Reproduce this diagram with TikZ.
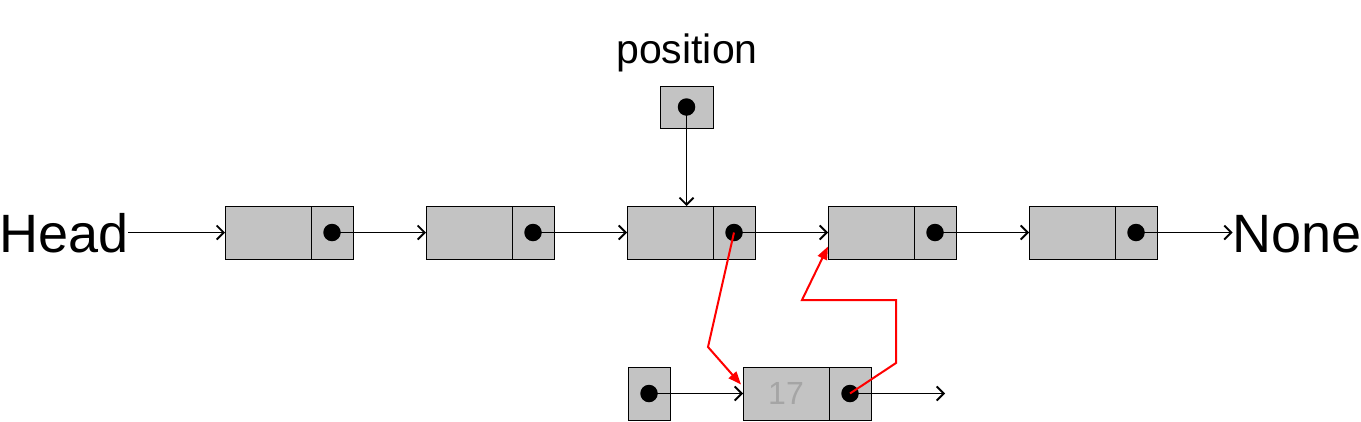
\documentclass[tikz,border=0pt]{standalone}
\usepackage{fontspec}
\setmainfont{Liberation Sans}
\usetikzlibrary{arrows.meta}
\definecolor{boxgray}{RGB}{195,195,195}
\definecolor{txtgray}{RGB}{165,165,165}
\begin{document}
\begin{tikzpicture}[x=1pt,y=-1pt,
 cell/.style={draw=black,line width=1pt,fill=boxgray,minimum height=53pt,inner sep=0pt,outer sep=0pt},
 datacell/.style={cell,minimum width=86pt},
 ptrcell/.style={cell,minimum width=42pt},
 dot/.style={circle,fill=black,minimum size=17.5pt,inner sep=0pt},
 link/.style={line width=1.8pt,-{Straight Barb[length=7pt,width=14pt]}},
 redlink/.style={red,line width=2pt,-{Triangle[length=13pt,width=10pt]}},
 big/.style={font=\fontsize{54}{60}\selectfont,inner sep=0pt}]
\useasboundingbox (0,0) rectangle (1361,421);
\foreach \i/\x in {1/225,2/426,3/627,4/828,5/1029} {
  \node[datacell,anchor=west] (d\i) at (\x,232.5) {};
  \node[ptrcell,anchor=west] (p\i) at (d\i.east) {};
}
\node[big,anchor=base west] (head) at (-1,252) {Head};
\node[big,anchor=base east] (none) at (1362,252) {None};
\node[cell,minimum width=53pt,minimum height=42pt] (pos) at (686.5,107) {};
\node[font=\fontsize{41}{48}\selectfont,anchor=base,inner sep=0pt] (poslabel) at (687,63) {position};
\node[ptrcell] (q) at (649,393.5) {};
\node[datacell,anchor=west,text=txtgray,font=\fontsize{32}{36}\selectfont] (d17) at (743,393.5) {17};
\node[ptrcell,anchor=west] (p17) at (d17.east) {};
\coordinate (tail) at (945,393.5);
% black links
\draw[link] (d1.west -| head.east) -- (d1.west);
\foreach \i/\j in {1/2,2/3,3/4,4/5} \draw[link] (p\i.center) -- (d\j.west);
\draw[link] (p5.center) -- (p5.center -| none.west);
\draw[link] (pos.center) -- (pos.center |- d3.north);
\draw[link] (q.center) -- (d17.west);
\draw[link] (p17.center) -- (tail);
% dots
\foreach \i in {1,2,3,4,5} \node[dot] (c\i) at (p\i.center) {};
\node[dot] (pc) at (pos.center) {};
\node[dot] (qc) at (q.center) {};
\node[dot] (c17) at (p17.center) {};
% red links
\draw[redlink] (c3.center) -- (708,347) -- ([shift={(-2,-9)}]d17.west);
\draw[redlink] (c17.center) -- (896,363) -- (896,300) -- (802,300) -- ([shift={(0,14)}]d4.west);
\end{tikzpicture}
\end{document}
